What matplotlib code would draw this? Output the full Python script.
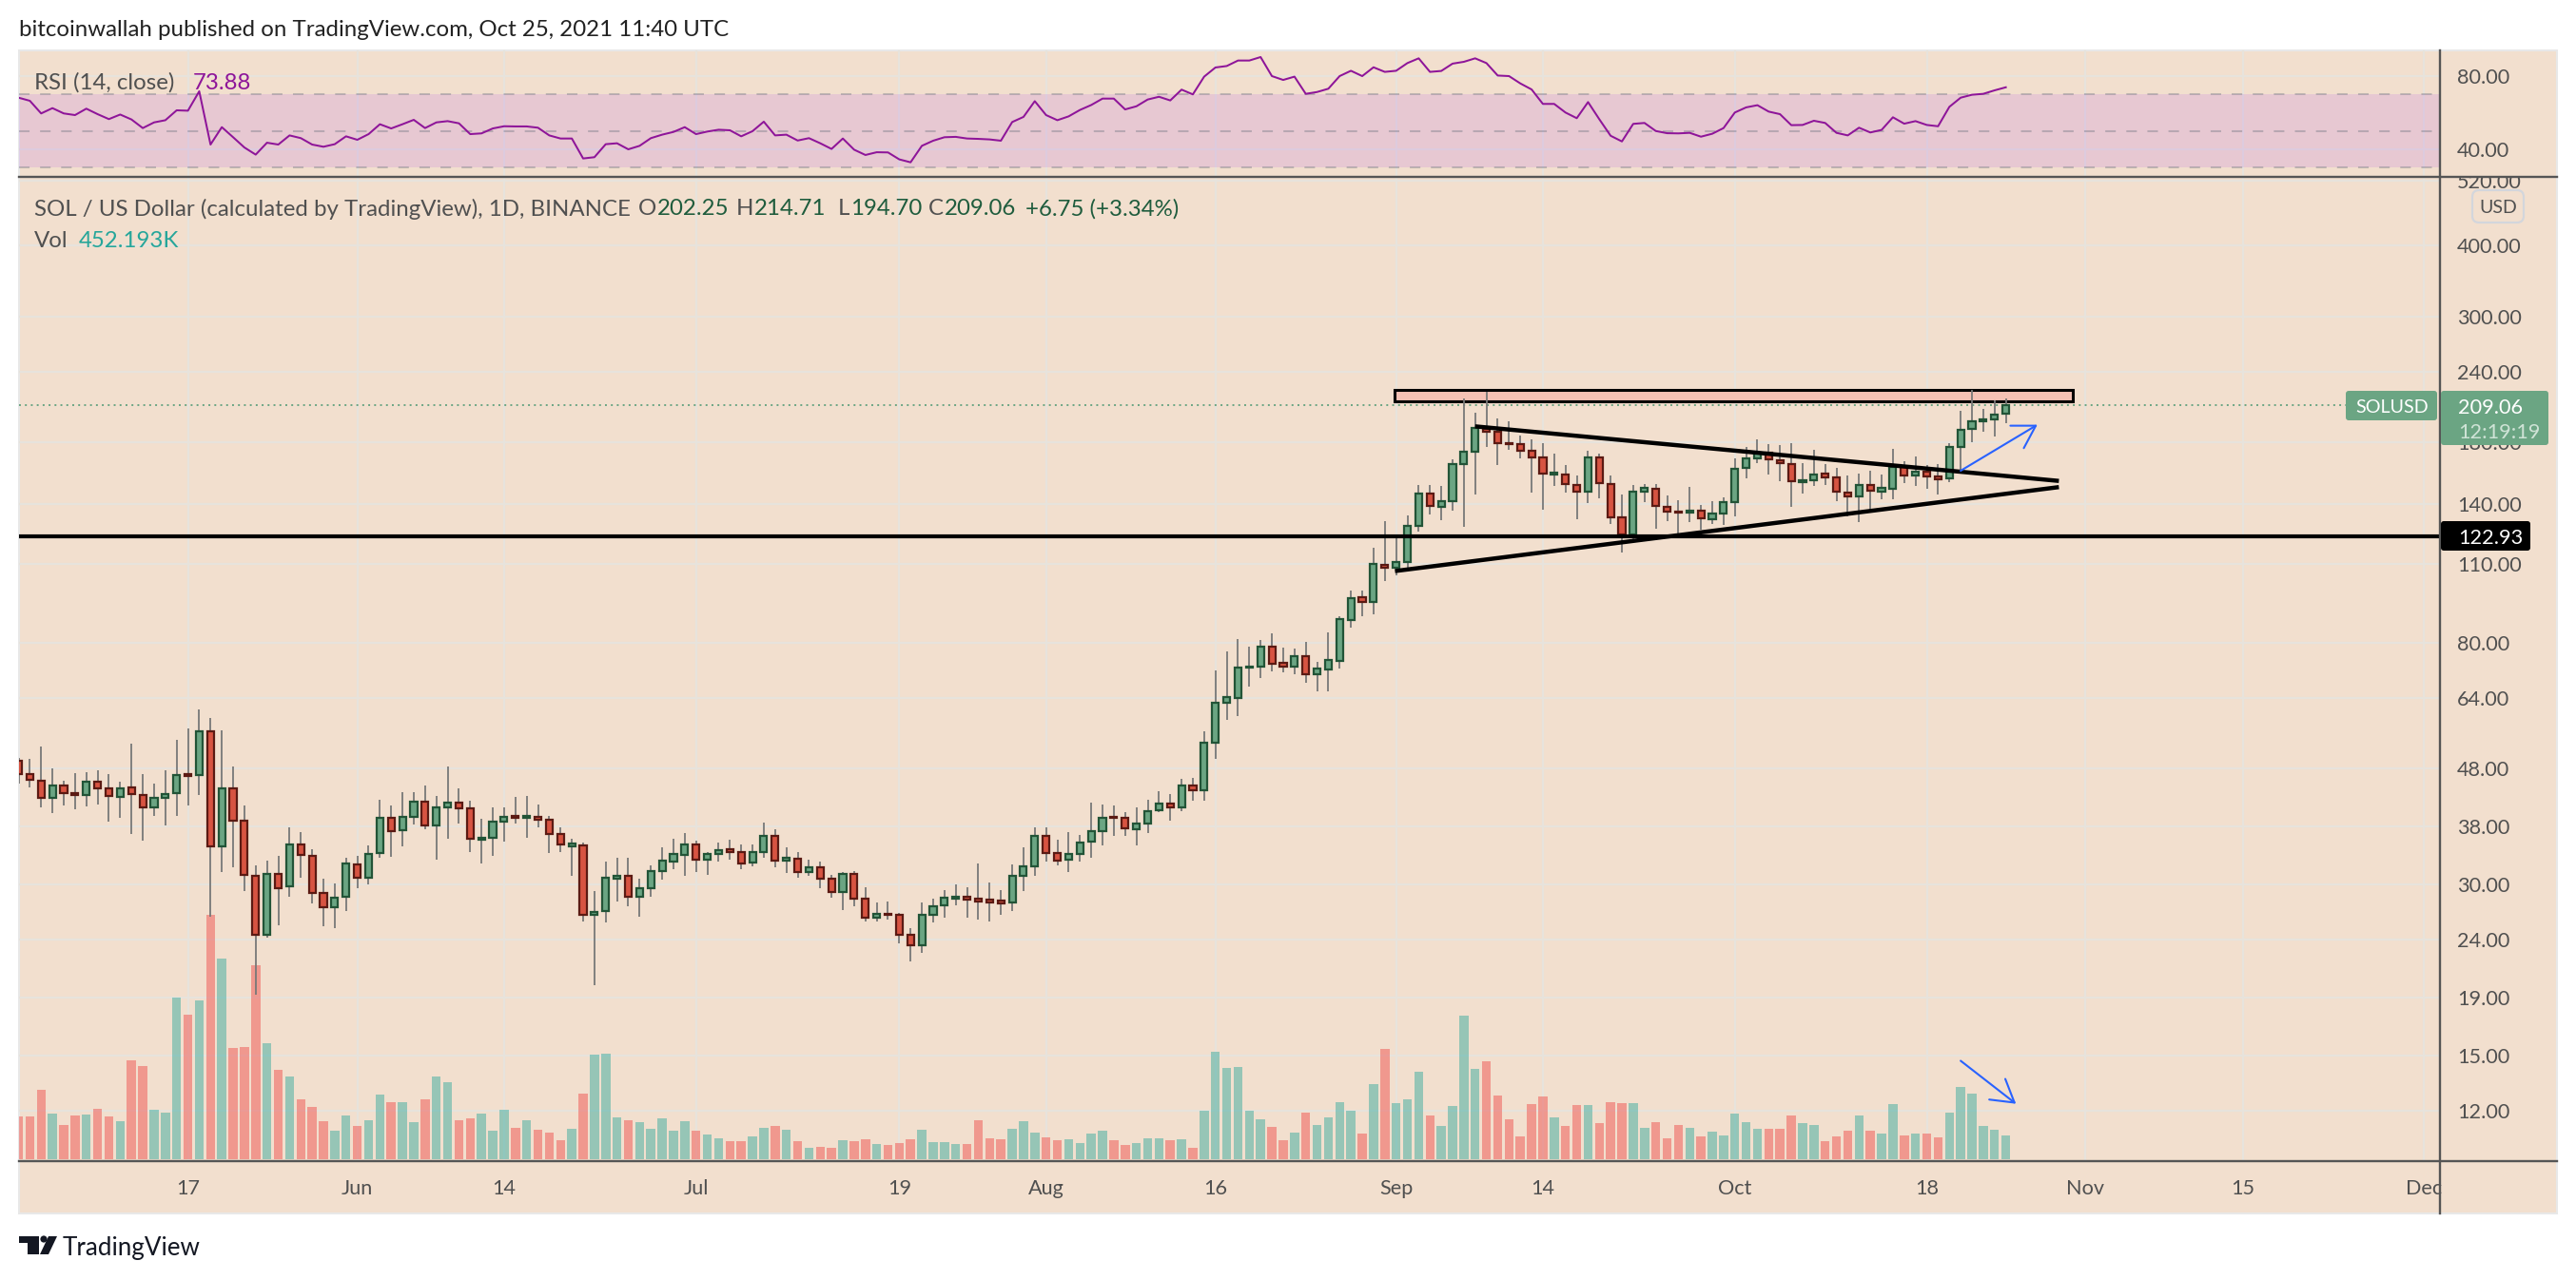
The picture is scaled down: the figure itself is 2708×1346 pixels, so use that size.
import numpy as np
from matplotlib import pyplot as plt
from matplotlib.lines import Line2D
from matplotlib.patches import FancyBboxPatch, Polygon, Circle, Rectangle
from matplotlib.transforms import Affine2D, Bbox

# =========================
# Values
# =========================
OPEN = [
    49.5, 46.9, 45.8, 42.6, 44.8, 43.4, 43.1, 45.6, 44.3, 42.8, 44.5, 43.1, 41.0, 42.6, 43.5, 46.9, 46.7, 55.9, 35.0, 44.4,
    38.9, 31.1, 24.5, 31.3, 29.8, 35.3, 33.7, 29.0, 27.4, 28.6, 32.6, 30.8, 34.1, 39.4, 37.4, 39.5, 42.0, 38.2, 41.0, 41.8,
    40.9, 36.0, 36.3, 38.7, 39.6, 39.4, 39.5, 39.1, 36.9, 35.1, 35.2, 26.6, 27.0, 30.7, 31.1, 28.6, 29.6, 31.7, 33.0, 33.9,
    35.3, 33.2, 34.0, 34.6, 34.2, 32.8, 34.2, 36.6, 33.1, 33.3, 31.6, 32.2, 30.7, 29.1, 31.3, 28.4, 26.2, 26.7, 26.6, 24.5,
    23.5, 26.6, 27.6, 28.4, 28.6, 28.3, 28.2, 28.1, 27.9, 31.1, 32.3, 36.6, 34.1, 33.2, 34.0, 35.7, 37.2, 39.5, 39.4, 37.6,
    38.5, 40.5, 41.6, 41.0, 44.8, 44.0, 53.3, 62.6, 64.0, 72.3, 72.6, 78.6, 73.6, 72.6, 75.6, 70.5, 71.8, 74.4, 87.7, 96.0,
    94.2, 109.8, 108.3, 110.8, 128.2, 146.2, 138.6, 141.8, 164.7, 173.5, 190.3, 187.7, 179.8, 178.9, 174.0, 169.6, 157.9, 158.3, 151.7, 147.3,
    169.4, 152.3, 132.7, 123.8, 147.7, 149.4, 138.9, 136.1, 135.3, 136.3, 131.8, 134.9, 141.3, 162.2, 169.0, 172.7, 167.6, 165.1, 153.1, 154.3,
    158.5, 156.5, 147.1, 144.6, 151.7, 147.7, 149.4, 163.2, 157.3, 159.7, 156.7, 155.5, 176.9, 189.8, 196.1, 197.3, 202.25,
]
HIGH = [
    50.2, 49.9, 52.6, 48.1, 45.7, 47.1, 47.4, 47.6, 46.9, 45.5, 53.2, 46.9, 45.2, 47.7, 53.9, 56.6, 61.0, 58.9, 56.0, 48.4,
    41.3, 32.4, 33.1, 33.7, 37.9, 37.1, 34.7, 30.7, 30.2, 33.4, 33.7, 35.2, 42.3, 41.3, 43.7, 43.7, 44.9, 42.9, 48.4, 44.4,
    42.2, 39.2, 41.0, 41.0, 42.8, 43.0, 41.5, 39.7, 37.9, 36.2, 35.6, 29.2, 33.0, 33.4, 33.4, 30.7, 32.4, 34.9, 36.1, 37.0,
    35.8, 34.3, 35.6, 36.0, 35.3, 35.3, 38.6, 37.5, 34.9, 34.3, 33.2, 33.0, 31.2, 31.6, 31.7, 29.7, 27.9, 28.0, 26.8, 25.2,
    27.9, 28.4, 29.4, 30.0, 29.7, 32.7, 30.3, 29.3, 32.6, 34.9, 37.8, 37.9, 36.0, 37.1, 36.7, 41.8, 41.5, 41.3, 40.3, 41.0,
    42.4, 43.9, 43.3, 46.1, 46.3, 55.8, 71.4, 77.3, 81.3, 78.7, 80.7, 83.0, 78.4, 78.1, 80.2, 73.9, 83.3, 89.0, 98.9, 98.9,
    117.7, 130.8, 123.0, 133.9, 151.3, 151.3, 150.9, 168.4, 214.9, 203.0, 221.0, 198.3, 196.3, 185.0, 182.4, 179.8, 172.2, 164.2, 157.5, 173.7,
    172.2, 157.3, 145.8, 151.3, 152.1, 151.9, 145.3, 142.5, 150.3, 139.8, 142.0, 144.2, 168.6, 176.4, 182.6, 179.1, 178.4, 179.8, 165.5, 174.4,
    164.7, 162.2, 157.5, 158.9, 160.6, 158.1, 175.7, 167.1, 170.0, 164.2, 164.9, 179.8, 204.6, 222.7, 206.2, 213.2, 214.71,
]
LOW = [
    45.2, 44.5, 41.0, 40.1, 41.3, 40.7, 41.2, 41.5, 38.7, 39.3, 36.8, 35.9, 39.7, 38.2, 39.7, 41.3, 43.1, 26.4, 31.6, 32.2,
    29.2, 19.2, 24.2, 25.5, 28.6, 30.9, 27.8, 25.4, 25.2, 27.0, 29.6, 30.0, 33.4, 33.6, 35.0, 38.3, 37.6, 33.2, 36.2, 38.5,
    34.2, 32.7, 33.7, 35.7, 38.5, 36.3, 37.8, 34.1, 34.2, 31.1, 25.8, 20.0, 25.7, 28.0, 27.5, 26.4, 28.6, 30.6, 32.0, 31.1,
    31.6, 31.2, 33.0, 33.2, 32.0, 32.3, 33.5, 32.2, 31.5, 30.9, 31.1, 29.6, 28.5, 27.1, 27.5, 25.8, 25.8, 26.0, 23.7, 22.0,
    22.8, 25.7, 26.2, 27.6, 26.2, 26.0, 25.8, 26.6, 27.0, 29.2, 31.1, 33.0, 32.5, 31.6, 33.0, 33.4, 35.2, 36.6, 36.6, 35.2,
    37.0, 40.2, 38.9, 40.4, 42.1, 42.2, 50.0, 58.5, 59.4, 66.9, 69.3, 71.2, 70.8, 70.3, 67.9, 65.6, 65.6, 72.0, 84.9, 89.0,
    89.7, 102.5, 104.9, 107.9, 125.4, 134.6, 131.5, 136.3, 128.0, 145.8, 176.4, 164.2, 174.4, 168.8, 147.1, 136.8, 151.1, 147.1, 132.0, 140.9,
    143.7, 129.6, 115.1, 121.0, 141.5, 126.9, 131.1, 123.1, 130.6, 126.4, 129.4, 128.9, 133.5, 155.7, 165.7, 158.1, 153.9, 138.8, 146.4, 150.9,
    151.5, 142.0, 133.2, 130.4, 136.1, 143.1, 143.1, 152.7, 150.9, 149.2, 145.8, 153.3, 159.5, 180.5, 188.0, 184.1, 194.70,
]
CLOSE = [
    47.0, 45.9, 42.6, 44.8, 43.5, 43.1, 45.6, 44.3, 43.0, 44.4, 43.3, 41.0, 42.6, 43.3, 46.7, 46.6, 55.9, 35.0, 44.3, 38.9,
    31.2, 24.5, 31.3, 29.6, 35.3, 33.8, 29.0, 27.4, 28.5, 32.7, 30.8, 34.0, 39.4, 37.2, 39.5, 42.0, 38.1, 41.0, 41.8, 40.9,
    36.1, 36.3, 38.7, 39.5, 39.4, 39.6, 39.1, 36.9, 35.3, 35.4, 26.6, 26.9, 30.8, 31.1, 28.6, 29.6, 31.7, 33.1, 34.0, 35.3,
    33.2, 34.0, 34.5, 34.2, 32.7, 34.2, 36.6, 33.1, 33.4, 31.6, 32.2, 30.7, 29.1, 31.3, 28.4, 26.2, 26.7, 26.6, 24.5, 23.5,
    26.6, 27.5, 28.5, 28.6, 28.2, 28.0, 27.9, 27.8, 31.1, 32.3, 36.6, 34.1, 33.1, 34.0, 35.6, 37.2, 39.4, 39.3, 37.7, 38.5,
    40.4, 41.6, 41.0, 44.8, 44.0, 53.4, 62.7, 64.1, 72.4, 72.6, 78.6, 73.4, 72.6, 75.6, 70.5, 71.9, 74.5, 88.0, 95.9, 94.2,
    110.0, 108.3, 110.8, 128.2, 146.2, 139.1, 141.8, 164.7, 173.3, 190.6, 187.7, 179.3, 178.9, 174.0, 169.6, 158.5, 159.1, 151.9, 147.3, 169.4,
    152.5, 132.8, 123.8, 147.7, 149.6, 139.1, 136.1, 135.3, 136.5, 132.3, 134.7, 141.1, 162.0, 169.0, 172.9, 167.8, 165.3, 153.7, 154.3, 158.3,
    156.5, 147.3, 144.6, 151.7, 147.9, 149.6, 163.2, 157.3, 159.7, 156.7, 155.3, 176.6, 189.6, 195.8, 197.5, 201.8, 209.06,
]
# volume in thousands
VOLUME = [
    814, 814, 1321, 868, 651, 832, 850, 959, 814, 724, 1881, 1773, 941, 886, 3075, 2750, 3021, 4649, 3817, 2117,
    2135, 3690, 2207, 1700, 1574, 1140, 995, 724, 543, 832, 633, 742, 1230, 1085, 1085, 706, 1140, 1574, 1465, 742,
    778, 868, 543, 941, 597, 742, 561, 507, 362, 579, 1248, 1990, 2008, 796, 742, 706, 579, 778, 543, 724,
    543, 470, 398, 344, 344, 434, 597, 633, 561, 344, 217, 235, 217, 362, 344, 380, 289, 271, 308, 380,
    561, 326, 326, 289, 289, 742, 398, 380, 579, 724, 507, 416, 362, 380, 308, 488, 543, 362, 271, 308,
    398, 398, 362, 380, 217, 923, 2044, 1737, 1755, 923, 760, 615, 362, 507, 886, 651, 796, 1085, 923, 488,
    1429, 2098, 1067, 1140, 1664, 832, 633, 1013, 2732, 1719, 1863, 1212, 760, 434, 1049, 1194, 796, 633, 1031, 1031,
    687, 1085, 1067, 1067, 597, 706, 398, 651, 597, 434, 525, 452, 868, 706, 579, 579, 579, 832, 687, 651,
    344, 434, 543, 832, 543, 488, 1049, 452, 488, 488, 416, 886, 1375, 1248, 633, 561, 452,
]
RSI = [
    68.2, 66.5, 59.6, 62.5, 59.6, 58.7, 62.2, 59.2, 56.5, 59.0, 56.3, 51.6, 54.7, 55.9, 61.3, 61.1, 71.7, 42.6, 52.1, 46.6,
    41.0, 37.1, 43.6, 42.6, 47.6, 46.1, 42.6, 41.4, 42.8, 47.1, 45.2, 48.3, 53.7, 51.4, 53.7, 56.1, 51.6, 54.7, 55.4, 54.2,
    48.3, 48.7, 51.4, 52.6, 52.5, 52.5, 51.8, 47.6, 45.9, 45.9, 35.0, 35.7, 42.8, 43.3, 40.0, 41.9, 46.1, 48.0, 49.5, 52.1,
    48.3, 49.7, 50.7, 50.4, 47.1, 49.9, 55.1, 47.6, 48.0, 44.8, 46.1, 43.3, 40.2, 45.9, 39.8, 36.9, 38.4, 38.3, 34.5, 32.9,
    41.9, 44.7, 46.6, 46.8, 45.9, 45.7, 45.4, 44.7, 54.9, 57.7, 66.3, 58.7, 55.9, 58.0, 61.5, 64.2, 67.7, 67.7, 61.8, 63.5,
    67.2, 68.7, 66.7, 72.6, 70.0, 79.7, 84.7, 85.5, 88.5, 88.5, 90.4, 80.0, 77.9, 79.7, 70.3, 71.3, 73.1, 80.0, 82.9, 80.0,
    84.8, 82.3, 82.9, 87.1, 89.7, 82.3, 82.8, 86.8, 87.8, 89.7, 87.1, 80.3, 80.0, 76.0, 72.7, 64.8, 64.8, 60.1, 57.0, 65.8,
    56.4, 47.4, 44.3, 53.9, 54.4, 50.0, 48.8, 48.7, 49.0, 46.9, 48.5, 51.6, 60.1, 62.9, 64.1, 60.6, 59.2, 53.2, 53.3, 55.6,
    54.4, 49.0, 47.6, 51.8, 49.2, 50.6, 57.5, 54.0, 55.4, 53.3, 52.6, 63.2, 68.2, 69.8, 70.3, 72.2, 73.88,
]
# days counted from May 2 2021
DATE_TICKS = [15, 30, 43, 60, 78, 91, 106, 122, 135, 152, 169, 183, 197, 213]
DATE_LABELS = ["17", "Jun", "14", "Jul", "19", "Aug", "16", "Sep", "14", "Oct", "18", "Nov", "15", "Dec"]
PRICE_TICKS = [520, 400, 300, 240, 180, 140, 110, 80, 64, 48, 38, 30, 24, 19, 15, 12]
RSI_TICKS = [80, 40]
LAST_CLOSE = 209.06
SUPPORT = 122.93

# =========================
# Styling
# =========================
W, H = 2708, 1346
BG = "#f2dfce"
GRID = "#e7e3dc"
TEXT = "#505050"
UP_FILL, UP_EDGE = "#6ba583", "#225437"
DOWN_FILL, DOWN_EDGE = "#d75442", "#5b1a13"
WICK = "#787878"
PURPLE = "#8e1599"
BLUE = "#2962ff"
DARK_GREEN = "#1f5c3d"

plt.rcParams["font.family"] = ["Lato", "DejaVu Sans"]
FS = 17.25
TICK_FS = 15.6

fig = plt.figure(figsize=(W / 100, H / 100), dpi=100, facecolor="white")
PX = Affine2D().scale(1 / W, -1 / H).translate(0, 1) + fig.transFigure


def px_axes(x0, y0, x1, y1, **kw):
    # axes placed by its pixel box, y counted from the top
    ax = fig.add_axes([x0 / W, 1 - y1 / H, (x1 - x0) / W, (y1 - y0) / H], **kw)
    ax.patch.set_visible(False)
    for s in ax.spines.values():
        s.set_visible(False)
    return ax


def px_text(x, y, s, **kw):
    kw.setdefault("color", TEXT)
    kw.setdefault("fontsize", FS)
    kw.setdefault("va", "center_baseline")
    return fig.text(x / W, 1 - y / H, s, **kw)


def px_line(x0, y0, x1, y1, color="#555555", lw=1.7):
    fig.add_artist(Line2D([x0, x1], [y0, y1], transform=PX, color=color, lw=lw, zorder=5))


# panel background
fig.add_artist(Rectangle((20, 53), 2668, 1223, transform=PX, facecolor=BG, edgecolor="#e8e8e8", lw=1.5, zorder=-1))

days = np.arange(len(CLOSE))
opens, highs, lows, closes = map(np.array, (OPEN, HIGH, LOW, CLOSE))
up = closes >= opens

XLIM = (0.04, 214.45)

# RSI pane
rsi_ax = px_axes(20, 53, 2565, 186)
rsi_ax.set_xlim(*XLIM)
rsi_ax.set_ylim(24.94, 94.03)
rsi_ax.set_xticks(DATE_TICKS)
rsi_ax.set_yticks(RSI_TICKS)
rsi_ax.set_yticklabels([f"{v:.2f}" for v in RSI_TICKS])
rsi_ax.yaxis.tick_right()
rsi_ax.tick_params(axis="x", length=0, labelbottom=False)
rsi_ax.tick_params(axis="y", length=0, pad=13, labelsize=TICK_FS, labelcolor=TEXT)
rsi_ax.grid(True, color=GRID, lw=1.6, zorder=0)
rsi_ax.set_axisbelow(True)
rsi_ax.axhspan(30, 70, facecolor=(142 / 255, 0, 246 / 255), alpha=0.1, lw=0, zorder=1)
for lvl in (70, 50, 30):
    rsi_ax.axhline(lvl, color="#787b86", alpha=0.42, lw=1.45, ls=(0, (5.5, 5.5)), zorder=2)
rsi_ax.plot(days, RSI, color=PURPLE, lw=1.45, zorder=3)

# price pane
ax = px_axes(20, 186, 2565, 1221)
ax.set_yscale("log")
ax.set_xlim(*XLIM)
ax.set_ylim(9.79, 527.8)
ax.set_xticks(DATE_TICKS)
ax.set_xticklabels(DATE_LABELS)
ax.set_yticks(PRICE_TICKS)
ax.set_yticklabels([f"{v:.2f}" for v in PRICE_TICKS])
ax.minorticks_off()
ax.yaxis.tick_right()
ax.tick_params(axis="x", length=0, pad=14, labelsize=TICK_FS, labelcolor=TEXT)
ax.tick_params(axis="y", length=0, pad=13, labelsize=TICK_FS, labelcolor=TEXT)
ax.grid(True, color=GRID, lw=1.6, zorder=0)
ax.set_axisbelow(True)
clip_px = Bbox([[2566, H - 1221], [2688, H - 186]])
for lbl in ax.get_yticklabels():
    lbl.set_clip_box(clip_px)
    lbl.set_clip_on(True)

# volume bars share the pane, scaled on their own: 1035 px tall = 18723K, base 2 px up
vol_top = 18723.0
vol_base = 2 / 1035
vol_trans = ax.get_xaxis_transform()
vol_colors = [(38 / 255, 166 / 255, 154 / 255, 0.45) if u else (239 / 255, 83 / 255, 80 / 255, 0.5) for u in up]
ax.bar(days, np.array(VOLUME) / vol_top, width=0.8, bottom=vol_base, color=vol_colors, lw=0,
       transform=vol_trans, zorder=2)

# candles
ax.vlines(days, lows, highs, color=WICK, lw=1.3, zorder=3)
ax.bar(days, np.abs(closes - opens), width=0.6, bottom=np.minimum(opens, closes),
       color=[UP_FILL if u else DOWN_FILL for u in up],
       edgecolor=[UP_EDGE if u else DOWN_EDGE for u in up], lw=1.6, zorder=4)

# drawings
ax.add_patch(Rectangle((121.9, 212.6), 60, 222.7 - 212.6, facecolor="#f5c1b4", edgecolor="black", lw=2.2, zorder=2.5))
ax.axhline(LAST_CLOSE, color=UP_FILL, lw=1.4, ls=(0, (1, 2.2)), zorder=2.6)
ax.axhline(SUPPORT, color="black", lw=3.0, zorder=5)
ax.plot([129, 180.7], [192.1, 154], color="black", lw=3.2, zorder=5, solid_capstyle="butt")
ax.plot([121.9, 180.7], [106.9, 150.2], color="black", lw=3.2, zorder=5, solid_capstyle="butt")
arrow = dict(arrowstyle="->,head_length=0.75,head_width=0.45", color=BLUE, lw=1.5, shrinkA=0, shrinkB=0, mutation_scale=22)
ax.annotate("", xy=(178.8, 193.4), xytext=(172, 160.5), arrowprops=arrow, zorder=6)
ax.annotate("", xy=(176.9, 12.35), xytext=(172, 14.7), arrowprops=arrow, zorder=6)

# pane separators and axis line
px_line(20, 186, 2688, 186)
px_line(20, 1221, 2688, 1221)
px_line(2565, 53, 2565, 1276)


# price labels on the scale
def px_box(x0, y0, x1, y1, color, round_=3, edge=None):
    fig.add_artist(FancyBboxPatch((x0 + round_, y0 + round_), x1 - x0 - 2 * round_, y1 - y0 - 2 * round_,
                                  boxstyle=f"round,pad={round_}", transform=PX, facecolor=color,
                                  edgecolor=edge if edge else color, lw=1.6 if edge else 0, zorder=6))


px_box(2466, 411, 2562, 442, UP_FILL)
px_box(2566, 411, 2679, 468, UP_FILL)
px_box(2566, 548, 2660, 579, "black")
px_box(2599, 200, 2653, 234, BG, round_=7, edge="#d3d6dc")
px_text(2476, 427, "SOLUSD", color="white", zorder=7, fontsize=14.2)
px_text(2584, 427, f"{LAST_CLOSE:.2f}", color="white", zorder=7, fontsize=TICK_FS)
px_text(2584, 453, "12:19:19", color="#cfe3d6", zorder=7, fontsize=TICK_FS)
px_text(2584, 564, f"{SUPPORT:.2f}", color="white", zorder=7, fontsize=TICK_FS)
px_text(2626, 217, "USD", ha="center", zorder=7, fontsize=14)

# legend lines
px_text(20, 30, "bitcoinwallah published on TradingView.com, Oct 25, 2021 11:40 UTC", color="#222222")
px_text(36, 85, "RSI (14, close)")
px_text(203, 85, "73.88", color=PURPLE)
px_text(36, 218, "SOL / US Dollar (calculated by TradingView), 1D, BINANCE")
for x, name, val in ((691, "O", "202.25"), (793, "H", "214.71"), (894, "L", "194.70"), (993, "C", "209.06")):
    px_text(x - 1, 218, name, ha="right")
    px_text(x, 218, val, color=DARK_GREEN)
px_text(1078, 218, "+6.75 (+3.34%)", color=DARK_GREEN)
px_text(36, 252, "Vol")
px_text(83, 252, "452.193K", color="#26a69a")

# logo
LOGO = "#131722"
fig.add_artist(Polygon([(20, 1300), (41, 1300), (41, 1319), (29, 1319), (29, 1307), (20, 1307)], transform=PX, color=LOGO, lw=0))
fig.add_artist(Circle((46, 1303), 3.6, transform=PX, color=LOGO, lw=0))
fig.add_artist(Polygon([(51, 1300), (60, 1300), (51, 1319), (42, 1319)], transform=PX, color=LOGO, lw=0))
px_text(66, 1310, "TradingView", color=LOGO, fontsize=FS + 1.5)

fig.savefig("out.png", dpi=100)
